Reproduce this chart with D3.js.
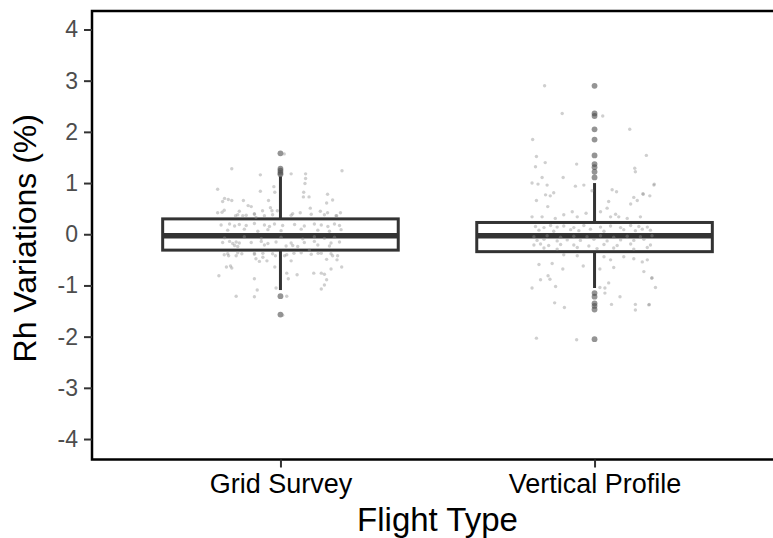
<!DOCTYPE html>
<html>
<head>
<meta charset="utf-8">
<script src="https://cdn.jsdelivr.net/npm/d3@7"></script>
<style>
  body { margin: 0; background: #fff; }
  svg { display: block; font-family: "Liberation Sans", Arial, sans-serif; }
</style>
</head>
<body>
<div id="chart"></div>
<script>
// categories and box stats
var categories = ["Grid Survey", "Vertical Profile"];
var q1 = [-0.31, -0.34];
var medians = [-0.03, -0.03];
var q3 = [0.30, 0.23];
var whiskerLow = [-1.09, -1.05];
var whiskerHigh = [1.13, 1.0];
var yTicks = [-4, -3, -2, -1, 0, 1, 2, 3, 4];

var gridOutliers = [1.58, 1.28, 1.24, 1.20, 1.17, -1.21, -1.57];
var vertOutliers = [2.90, 2.36, 2.31, 2.05, 1.85, 1.54, 1.37, 1.31, 1.22, 1.11,
  -1.15, -1.22, -1.35, -1.40, -1.47, -2.05];

// jittered raw points: [offset from category centre (in category steps), value]
var gridPoints = [
  [-0.155,1.28],[-0.064,1.16],[0.034,1.18],[0.08,1.18],[0.196,1.24],[0.08,1.09],[0.078,0.99],[-0.2,0.88],
  [-0.064,0.84],[-0.021,0.93],[-0.018,0.82],[0.074,0.82],[0.091,0.73],[0.073,0.73],[0.15,0.78],[0.147,0.61],
  [0.166,0.67],[-0.178,0.70],[-0.184,0.64],[-0.166,0.68],[-0.155,0.66],[-0.118,0.66],[-0.038,0.66],[-0.103,0.56],
  [-0.093,0.54],[-0.032,0.52],[-0.027,0.46],[-0.057,0.46],[-0.131,0.45],[-0.179,0.47],[-0.186,0.43],[-0.2,0.42],
  [-0.083,0.40],[-0.01,0.46],[0.039,0.40],[0.063,0.42],[0.095,0.51],[0.127,0.45],[0.15,0.42],[0.179,0.36],
  [0.191,0.42],[-0.078,0.33],[-0.12,0.36],[-0.143,0.36],[0.012,1.57],[0.007,-1.58],[0.02,-1.21],
  [-0.136,0.38],[-0.109,0.37],[-0.083,0.39],[-0.051,0.36],[-0.025,0.38],[0.034,0.37],[0.098,0.39],[0.14,0.38],[0.177,0.36],
  [-0.189,0.18],[-0.162,0.2],[-0.146,0.16],[-0.131,0.19],[-0.109,0.17],[-0.083,0.21],[-0.051,0.18],[-0.035,0.15],
  [-0.019,0.2],[0.007,0.17],[0.045,0.19],[0.076,0.16],[0.108,0.2],[0.13,0.18],[0.151,0.15],[0.172,0.2],[0.188,0.17],
  [-0.168,0.08],[-0.115,0.1],[-0.072,0.06],[-0.04,0.09],[0.002,0.07],[0.066,0.1],[0.119,0.08],[0.156,0.06],[0.193,0.09],
  [-0.178,-0.07],[-0.115,-0.05],[-0.061,-0.08],[0.002,-0.06],[0.071,-0.09],[0.108,-0.05],[0.14,-0.08],[0.172,-0.06],
  [-0.184,-0.16],[-0.162,-0.14],[-0.152,-0.18],[-0.141,-0.15],[-0.131,-0.17],[-0.093,-0.16],[-0.061,-0.14],[-0.04,-0.18],
  [-0.014,-0.15],[0.034,-0.17],[0.076,-0.16],[0.108,-0.14],[0.161,-0.17],[0.188,-0.15],
  [-0.146,-0.22],[-0.136,-0.24],[-0.051,-0.21],[0.018,-0.23],[0.039,-0.22],[0.055,-0.24],[0.119,-0.21],[0.156,-0.23],
  [-0.168,-0.38],[-0.136,-0.36],[-0.083,-0.39],[-0.056,-0.37],[-0.025,-0.38],[0.066,-0.36],[0.098,-0.39],[0.13,-0.37],[0.161,-0.38],
  [-0.179,-0.40],[-0.165,-0.42],[-0.141,-0.42],[-0.123,-0.38],[-0.083,-0.37],[-0.078,-0.48],[-0.067,-0.53],[-0.056,-0.45],
  [-0.043,-0.52],[-0.016,-0.42],[0.013,-0.42],[0.02,-0.40],[0.034,-0.52],[0.043,-0.37],[0.092,-0.31],[0.12,-0.37],
  [0.147,-0.49],[0.166,-0.42],[0.182,-0.42],[0.18,-0.50],[-0.172,-0.64],[-0.159,-0.62],[-0.155,-0.66],[-0.018,-0.64],
  [0.161,-0.68],[0.195,-0.64],[-0.196,-0.81],[-0.083,-0.87],[0.02,-0.76],[0.025,-0.87],[0.053,-0.79],[0.106,-0.76],
  [0.13,-0.76],[0.14,-0.78],[0.147,-0.89],[0.14,-0.99],[0.13,-1.07],[-0.074,-1.09],[-0.014,-1.05],[-0.141,-1.21],[-0.083,-1.22]
];

var vertPoints = [
  [-0.159,2.90],[-0.103,2.36],[0.026,2.31],[0.112,2.05],[-0.197,1.85],[-0.185,1.52],[0.165,1.54],[-0.188,1.32],
  [-0.157,1.40],[-0.057,1.37],[0.128,1.29],[-0.167,1.11],[-0.1,1.11],[-0.199,1.0],[-0.18,0.98],[-0.151,0.96],
  [-0.061,0.94],[-0.034,0.96],[0.13,1.22],[0.189,0.96],[0.056,0.87],[0.07,0.83],[-0.008,0.85],[0.155,0.78],
  [0.176,0.75],[0.125,0.72],[-0.156,0.77],[-0.141,0.75],[-0.13,0.81],[-0.185,0.66],[0.136,0.66],[0.045,0.64],
  [0.115,0.59],[-0.149,0.54],[0.04,0.51],[-0.071,0.44],[-0.027,0.41],[0.019,0.44],[0.067,0.39],[-0.098,0.38],
  [-0.199,0.34],[-0.167,0.34],[-0.125,0.31],[-0.055,0.34],[0.051,0.34],[0.077,0.34],[0.146,0.34],[0.104,0.31],
  [0.19,0.98],[0.154,0.79],
  [-0.188,0.15],[-0.161,0.13],[-0.14,0.17],[-0.119,0.14],[-0.098,0.16],[-0.066,0.13],[-0.034,0.17],[0.019,0.14],
  [0.051,0.16],[0.083,0.13],[0.115,0.17],[0.141,0.15],[0.168,0.14],
  [-0.177,0.08],[-0.13,0.06],[-0.076,0.09],[-0.05,0.07],[-0.013,0.1],[0.03,0.06],[0.093,0.09],[0.13,0.07],[0.152,0.1],[0.178,0.08],
  [-0.193,-0.05],[-0.151,-0.03],[-0.108,-0.06],[-0.066,-0.04],[-0.024,-0.05],[0.019,-0.03],[0.061,-0.06],[0.104,-0.04],[0.146,-0.05],[0.183,-0.03],
  [-0.183,-0.12],[-0.161,-0.1],[-0.119,-0.13],[-0.087,-0.11],[-0.045,-0.12],[-0.002,-0.1],[0.04,-0.13],[0.083,-0.11],[0.125,-0.12],[0.157,-0.1],
  [-0.193,-0.21],[-0.172,-0.19],[-0.146,-0.22],[-0.108,-0.2],[-0.066,-0.21],[-0.018,-0.23],[0.03,-0.2],[0.072,-0.22],[0.115,-0.19],[0.178,-0.21],
  [-0.161,-0.27],[-0.119,-0.29],[-0.055,-0.26],[0.008,-0.28],[0.061,-0.27],[0.125,-0.29],[0.168,-0.26],
  [-0.098,-0.40],[-0.055,-0.42],[0.03,-0.44],[0.051,-0.50],[0.093,-0.44],[0.125,-0.48],[0.152,-0.54],[0.168,-0.50],
  [-0.177,-0.59],[-0.135,-0.57],[-0.036,-0.62],[0.061,-0.65],[0.017,-0.68],[-0.101,-0.68],[0.157,-0.73],[-0.148,-0.81],
  [-0.172,-0.89],[-0.142,-0.88],[0.182,-0.86],[0.045,-0.95],[-0.124,-1.02],[0.017,-1.04],[0.033,-1.05],[-0.199,-1.05],
  [0.194,-1.04],[0.033,-1.15],[0.081,-1.22],[-0.127,-1.34],[0.054,-1.37],[-0.096,-1.43],[0.13,-1.37],[0.173,-1.38],
  [0.13,-1.48],[-0.185,-2.03],[-0.057,-2.06],[0.174,-1.37],[0.183,-0.85]
];

var outliers = [gridOutliers, vertOutliers];
var points = [gridPoints, vertPoints];

var width = 773, height = 538;
var plotLeft = 92, plotBottom = 459.5, plotTop = 9;

var svg = d3.select("#chart").append("svg")
  .attr("width", width)
  .attr("height", height);

// discrete x like ggplot: 0.6 step of padding each side
var x = d3.scalePoint()
  .domain(categories)
  .range([plotLeft, plotLeft + 691])
  .padding(0.6);
var step = x.step();

var y = d3.scaleLinear()
  .domain([-4.4, 4.4])
  .range([plotBottom, plotTop]);

var ink = "#333333";

// boxes
var boxes = svg.append("g");
categories.forEach(function(c, i) {
  var cx = x(c);
  var bw = step * 0.75;
  boxes.append("line")
    .attr("x1", cx).attr("x2", cx)
    .attr("y1", y(q3[i])).attr("y2", y(whiskerHigh[i]))
    .attr("stroke", ink).attr("stroke-width", 3);
  boxes.append("line")
    .attr("x1", cx).attr("x2", cx)
    .attr("y1", y(q1[i])).attr("y2", y(whiskerLow[i]))
    .attr("stroke", ink).attr("stroke-width", 3);
  boxes.append("rect")
    .attr("x", cx - bw / 2)
    .attr("y", y(q3[i]))
    .attr("width", bw)
    .attr("height", y(q1[i]) - y(q3[i]))
    .attr("fill", "#fff")
    .attr("stroke", ink).attr("stroke-width", 3);
  boxes.append("line")
    .attr("x1", cx - bw / 2).attr("x2", cx + bw / 2)
    .attr("y1", y(medians[i])).attr("y2", y(medians[i]))
    .attr("stroke", ink).attr("stroke-width", 5.5);
  // outliers at the centre
  boxes.selectAll(null)
    .data(outliers[i])
    .enter()
    .append("circle")
    .attr("cx", cx)
    .attr("cy", function(d) { return y(d); })
    .attr("r", 2.9)
    .attr("fill", "#4d4d4d")
    .attr("fill-opacity", 0.6);
});

// jittered points on top
categories.forEach(function(c, i) {
  svg.append("g").selectAll("circle")
    .data(points[i])
    .enter()
    .append("circle")
    .attr("cx", function(d) { return x(c) + d[0] * step; })
    .attr("cy", function(d) { return y(d[1]); })
    .attr("r", 1.7)
    .attr("fill", "#8c8c8c")
    .attr("fill-opacity", 0.42);
});

// panel border: top line goes off the right edge
svg.append("rect")
  .attr("x", plotLeft)
  .attr("y", 11)
  .attr("width", 800)
  .attr("height", plotBottom - 11)
  .attr("fill", "none")
  .attr("stroke", "#000")
  .attr("stroke-width", 2.5);

// y axis (plain hyphen for negatives, like the original)
var yAxis = svg.append("g")
  .attr("transform", "translate(" + plotLeft + ",0)")
  .call(d3.axisLeft(y).tickValues(yTicks).tickFormat(function(d) { return String(d); })
    .tickSize(8).tickPadding(6));
yAxis.select(".domain").remove();
yAxis.selectAll(".tick line").attr("stroke", ink).attr("stroke-width", 2);
yAxis.selectAll(".tick text")
  .attr("fill", "#4d4d4d")
  .style("font-size", "23px")
  .style("font-family", "'Liberation Sans', Arial, sans-serif");

// x axis
var xAxis = svg.append("g")
  .attr("transform", "translate(0," + plotBottom + ")")
  .call(d3.axisBottom(x).tickSize(8).tickPadding(6));
xAxis.select(".domain").remove();
xAxis.selectAll(".tick line").attr("stroke", ink).attr("stroke-width", 2);
xAxis.selectAll(".tick text")
  .attr("fill", "#000")
  .style("font-size", "27px")
  .style("font-family", "'Liberation Sans', Arial, sans-serif");

// titles
svg.append("text")
  .attr("x", x(categories[0]) / 2 + x(categories[1]) / 2)
  .attr("y", 531)
  .attr("text-anchor", "middle")
  .style("font-size", "33px")
  .text("Flight Type");

svg.append("text")
  .attr("transform", "translate(36," + ((plotTop + plotBottom) / 2 + 4) + ") rotate(-90)")
  .attr("text-anchor", "middle")
  .style("font-size", "32px")
  .text("Rh Variations (%)");
</script>
</body>
</html>
